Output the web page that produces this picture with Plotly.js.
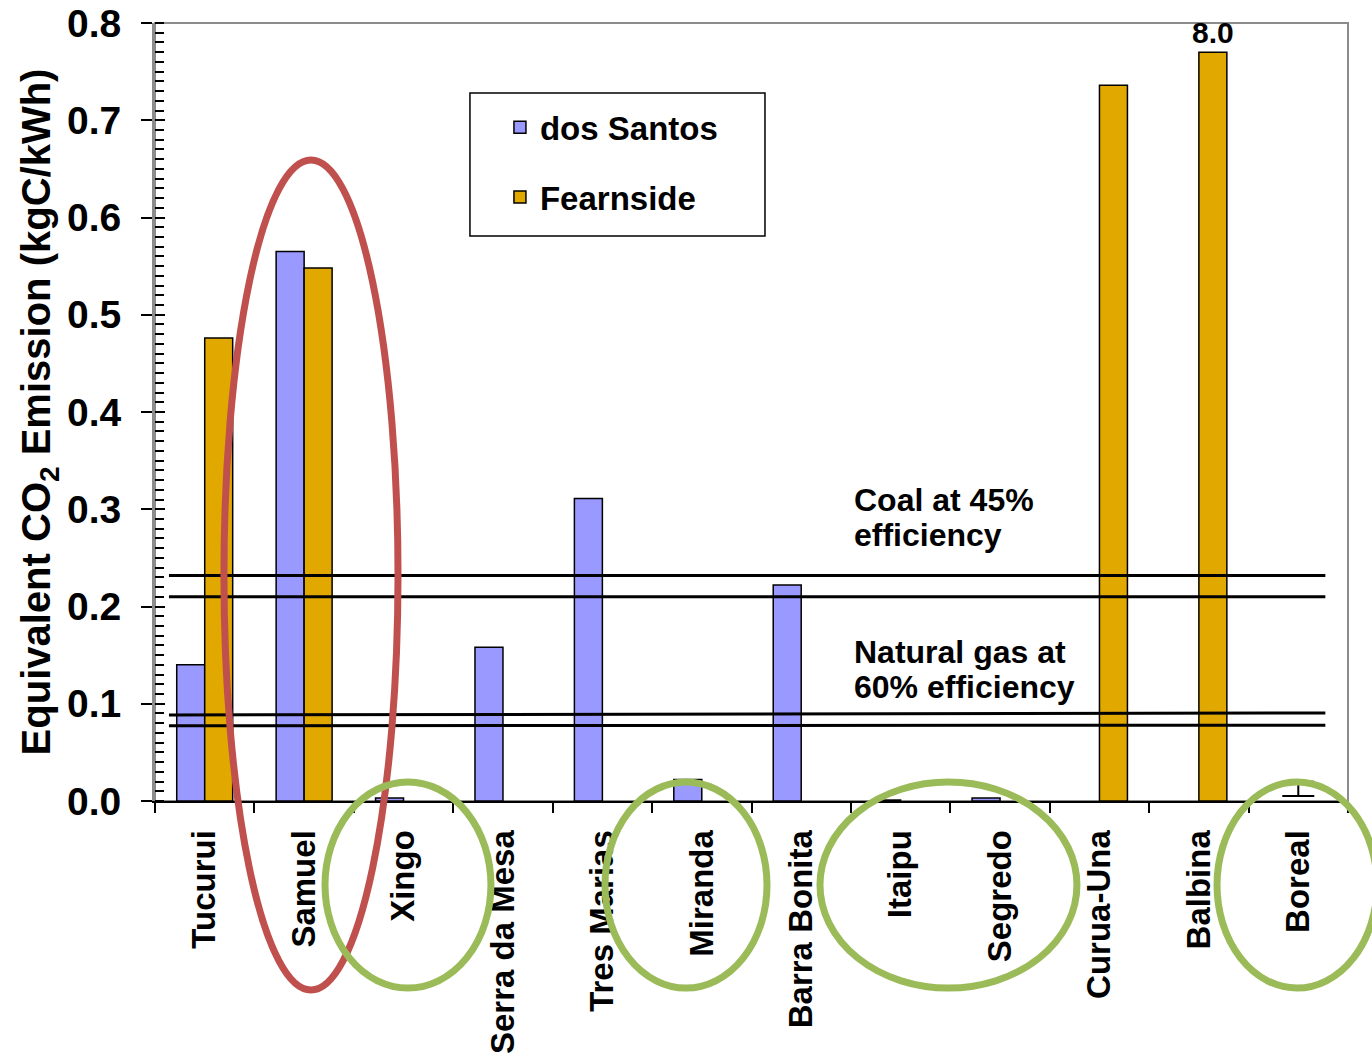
<!DOCTYPE html>
<html><head><meta charset="utf-8">
<script src="https://cdn.plot.ly/plotly-3.0.1.min.js"></script>
<style>html,body{margin:0;padding:0;background:#fff}#chart{width:1372px;height:1060px}</style>
</head><body><div id="chart"></div>
<script>
const categories = ['Tucurui','Samuel','Xingo','Serra da Mesa','Tres Marias','Miranda','Barra Bonita','Itaipu','Segredo','Curua-Una','Balbina','Boreal'];
const dosSantos = [0.140, 0.565, 0.003, 0.158, 0.311, 0.022, 0.222, 0.001, 0.003, null, null, null];
const fearnside = [0.476, 0.548, null, null, null, null, null, null, null, 0.736, 0.770, null];
const balbinaActual = 8.0;
const borealCategory = ['Boreal'];
const borealMid = [0.0125];
const borealHalfRange = [0.0074];
const coalLines = [0.232, 0.210];
const gasLinesLeft = [0.0884, 0.0774];
const gasLinesRight = [0.0906, 0.0779];
const yTicks = [0, 0.1, 0.2, 0.3, 0.4, 0.5, 0.6, 0.7, 0.8];

const FONT = 'Liberation Sans, Arial, sans-serif';
const nCat = categories.length;

const traces = [
  {type: 'bar', name: 'dos Santos', x: categories, y: dosSantos, legendgroup: 'a',
   marker: {color: '#9999FF', line: {color: '#000', width: 1.5}}, hoverinfo: 'x+y'},
  {type: 'bar', name: 'Fearnside', x: categories, y: fearnside, legendgroup: 'b',
   marker: {color: '#E1A800', line: {color: '#000', width: 1.5}}, hoverinfo: 'x+y'},
  {type: 'scatter', mode: 'markers', x: borealCategory, y: borealMid, showlegend: false,
   marker: {size: 1, opacity: 0}, hoverinfo: 'skip',
   error_y: {type: 'data', array: borealHalfRange, visible: true, color: '#000', thickness: 2, width: 16}},
  {type: 'scatter', mode: 'markers', x: [categories[0]], y: [0], yaxis: 'y2', showlegend: false,
   marker: {size: 1, opacity: 0}, hoverinfo: 'skip'}
];

const shapes = [
  {type: 'rect', xref: 'paper', yref: 'paper', x0: 0, x1: 1, y0: 0, y1: 1, layer: 'below',
   line: {color: '#8c8c8c', width: 2}},
  // legend frame
  {type: 'rect', xref: 'paper', yref: 'paper', x0: 0.264, x1: 0.5113, y0: 0.7262, y1: 0.91, layer: 'above',
   line: {color: '#000', width: 1.5}}
];
coalLines.forEach(v => shapes.push({type: 'line', xref: 'paper', yref: 'y', x0: 0.0117, x1: 0.981, y0: v, y1: v,
  line: {color: '#000', width: 3}}));
gasLinesLeft.forEach((v, i) => shapes.push({type: 'line', xref: 'paper', yref: 'y', x0: 0.0117, x1: 0.981, y0: v, y1: gasLinesRight[i],
  line: {color: '#000', width: 3}}));

// highlight ellipses (placement in paper units)
const redC = '#C0504D', greenC = '#9BBB59';
shapes.push({type: 'circle', xref: 'paper', yref: 'paper', x0: 0.0578, x1: 0.2037, y0: -0.243, y1: 0.824,
  line: {color: redC, width: 7}});
[[0.1425, 0.2816], [0.3772, 0.5130], [0.5574, 0.7728], [0.8902, 1.0243]].forEach(([a, b]) => {
  shapes.push({type: 'circle', xref: 'paper', yref: 'paper', x0: a, x1: b, y0: -0.2404, y1: 0.0244,
    line: {color: greenC, width: 7}});
});

const annFont = {family: FONT, size: 32, color: '#000', weight: 700};
const ax = 0.5843;
const annotations = [
  {xref: 'paper', yref: 'y', x: ax, y: 0.3095, text: 'Coal at 45%', showarrow: false, xanchor: 'left', yanchor: 'middle', font: annFont},
  {xref: 'paper', yref: 'y', x: ax, y: 0.2735, text: 'efficiency', showarrow: false, xanchor: 'left', yanchor: 'middle', font: annFont},
  {xref: 'paper', yref: 'y', x: ax, y: 0.1532, text: 'Natural gas at', showarrow: false, xanchor: 'left', yanchor: 'middle', font: annFont},
  {xref: 'paper', yref: 'y', x: ax, y: 0.1172, text: '60% efficiency', showarrow: false, xanchor: 'left', yanchor: 'middle', font: annFont},
  {xref: 'x', yref: 'y', x: 'Balbina', y: fearnside[10], xshift: 14, yshift: 1, text: balbinaActual.toFixed(1), showarrow: false,
   xanchor: 'center', yanchor: 'bottom', font: {family: FONT, size: 30, color: '#000', weight: 700}}
];

const layout = {
  width: 1372, height: 1060,
  margin: {l: 155, r: 24, t: 23, b: 259},
  paper_bgcolor: '#fff', plot_bgcolor: '#fff',
  font: {family: FONT, color: '#000'},
  barmode: 'group', bargap: 0.437, bargroupgap: 0,
  showlegend: true,
  legend: {x: 0.264, y: 0.902, xanchor: 'left', yanchor: 'top', bgcolor: 'rgba(0,0,0,0)', borderwidth: 0,
    font: {family: FONT, size: 33, color: '#000', weight: 700}, traceorder: 'grouped', tracegroupgap: 24, indentation: 30},
  xaxis: {type: 'category', categoryorder: 'array', categoryarray: categories, range: [-0.5, nCat - 0.5], autorange: false,
    showline: true, linecolor: '#000', linewidth: 2, showgrid: false, zeroline: false,
    ticks: 'outside', tickson: 'boundaries', ticklen: 10, tickwidth: 2, tickcolor: '#000',
    tickangle: -90, ticklabelstandoff: 14, tickfont: {family: FONT, size: 33, color: '#000', weight: 700}},
  yaxis: {range: [0, 0.8], tickvals: yTicks, tickformat: '.1f', showgrid: false, zeroline: false,
    showline: true, linecolor: '#8c8c8c', linewidth: 3,
    ticks: 'outside', ticklen: 11, tickwidth: 2, tickcolor: '#000', ticklabelstandoff: 12,
    tickfont: {family: FONT, size: 39, color: '#000', weight: 700},
    minor: {dtick: 0.01, ticks: 'inside', ticklen: 9, tickwidth: 2, tickcolor: '#000'},
    title: {text: 'Equivalent CO<sub>2</sub> Emission (kgC/kWh)', font: {family: FONT, size: 40, color: '#000', weight: 700}, standoff: 4}},
  yaxis2: {overlaying: 'y', side: 'left', range: [0, 0.8], tickvals: yTicks, showticklabels: false, showgrid: false, zeroline: false,
    showline: false, ticks: 'inside', ticklen: 10, tickwidth: 2, tickcolor: '#000'},
  shapes: shapes,
  annotations: annotations
};

Plotly.newPlot('chart', traces, layout, {displayModeBar: false, staticPlot: true});
</script>
</body></html>
